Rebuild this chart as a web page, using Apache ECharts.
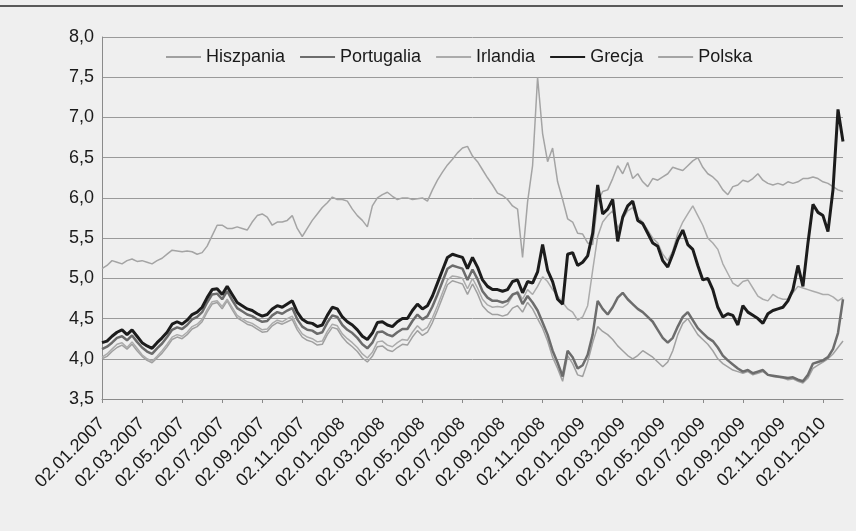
<!DOCTYPE html>
<html>
<head>
<meta charset="utf-8">
<script src="https://cdn.jsdelivr.net/npm/echarts@6/dist/echarts.min.js"></script>
<style>
html,body{margin:0;padding:0;background:#efefef;}
#container{width:856px;height:531px;}
</style>
</head>
<body>
<div id="container"></div>
<script>
// tick labels, one every 8 weekly points
var tickLabels = ['02.01.2007','02.03.2007','02.05.2007','02.07.2007','02.09.2007','02.11.2007',
	'02.01.2008','02.03.2008','02.05.2008','02.07.2008','02.09.2008','02.11.2008',
	'02.01.2009','02.03.2009','02.05.2009','02.07.2009','02.09.2009','02.11.2009','02.01.2010'];

var hiszpania = [
	4.00,4.03,4.09,4.14,4.17,4.12,4.18,4.10,4.03,3.98,
	3.95,4.01,4.07,4.15,4.24,4.27,4.25,4.30,4.37,4.40,
	4.46,4.58,4.68,4.70,4.62,4.72,4.61,4.51,4.47,4.43,
	4.41,4.37,4.33,4.34,4.41,4.45,4.43,4.46,4.49,4.36,
	4.27,4.23,4.21,4.17,4.18,4.30,4.39,4.37,4.27,4.20,
	4.15,4.09,4.01,3.96,4.03,4.15,4.16,4.11,4.09,4.14,
	4.18,4.17,4.27,4.35,4.29,4.33,4.45,4.60,4.76,4.92,
	4.97,4.95,4.93,4.80,4.93,4.81,4.66,4.59,4.55,4.55,
	4.53,4.55,4.63,4.66,4.58,4.70,4.62,
	4.50,4.38,4.22,4.02,3.88,3.72,4.04,3.94,3.80,3.78,
	3.96,4.20,4.40,4.34,4.30,4.24,4.16,4.10,4.04,4.00,
	4.04,4.10,4.06,4.02,3.96,3.90,3.96,4.10,4.30,4.44,
	4.50,4.40,4.30,4.24,4.18,4.10,4.00,3.94,3.90,3.86,
	3.84,3.82,3.84,3.80,3.82,3.84,3.80,3.78,3.77,3.76,
	3.74,3.75,3.72,3.70,3.76,3.88,3.92,3.96,4.00,4.06,
	4.14,4.22
];
var portugalia = [
	4.12,4.15,4.20,4.26,4.28,4.23,4.29,4.21,4.14,4.09,
	4.06,4.13,4.19,4.27,4.36,4.39,4.37,4.42,4.49,4.52,
	4.58,4.70,4.80,4.81,4.74,4.84,4.73,4.63,4.59,4.55,
	4.53,4.49,4.46,4.47,4.54,4.58,4.56,4.60,4.63,4.49,
	4.40,4.36,4.35,4.31,4.33,4.45,4.54,4.52,4.42,4.36,
	4.32,4.26,4.18,4.13,4.20,4.33,4.34,4.30,4.28,4.33,
	4.37,4.37,4.47,4.55,4.49,4.53,4.65,4.80,4.96,5.12,
	5.16,5.14,5.12,4.98,5.11,4.99,4.84,4.76,4.72,4.72,
	4.70,4.72,4.80,4.82,4.68,4.78,4.70,
	4.60,4.45,4.30,4.10,3.95,3.78,4.10,4.02,3.88,3.92,
	4.05,4.30,4.72,4.62,4.55,4.64,4.76,4.82,4.74,4.68,
	4.62,4.58,4.52,4.46,4.36,4.26,4.20,4.26,4.40,4.52,
	4.58,4.48,4.38,4.32,4.26,4.22,4.14,4.04,3.98,3.93,
	3.88,3.84,3.86,3.82,3.84,3.86,3.80,3.79,3.78,3.77,
	3.76,3.77,3.74,3.72,3.80,3.94,3.96,3.98,4.02,4.12,
	4.32,4.74
];
var irlandia = [
	4.02,4.06,4.12,4.18,4.20,4.14,4.21,4.13,4.05,4.00,
	3.97,4.03,4.10,4.18,4.27,4.30,4.28,4.33,4.40,4.43,
	4.49,4.61,4.71,4.72,4.65,4.74,4.64,4.54,4.50,4.46,
	4.44,4.40,4.36,4.37,4.44,4.48,4.46,4.50,4.53,4.40,
	4.31,4.27,4.25,4.21,4.22,4.34,4.43,4.41,4.31,4.25,
	4.20,4.14,4.06,4.01,4.08,4.21,4.22,4.17,4.15,4.20,
	4.24,4.23,4.33,4.41,4.35,4.39,4.51,4.66,4.82,4.98,
	5.03,5.02,5.00,4.87,5.00,4.88,4.74,4.67,4.64,4.65,
	4.64,4.68,4.78,4.84,4.74,4.86,4.80,
	4.90,5.02,4.96,4.86,4.78,4.70,4.62,4.58,4.48,4.52,
	4.66,5.10,5.52,5.70,5.78,5.84,5.62,5.74,5.84,5.88,
	5.76,5.70,5.60,5.50,5.44,5.30,5.22,5.34,5.56,5.70,
	5.80,5.90,5.78,5.66,5.50,5.44,5.36,5.18,5.06,4.94,
	4.90,4.96,4.98,4.88,4.78,4.74,4.72,4.80,4.76,4.74,
	4.74,4.82,4.90,4.88,4.86,4.84,4.82,4.80,4.80,4.77,
	4.72,4.76
];
var grecja = [
	4.20,4.22,4.28,4.33,4.36,4.30,4.36,4.28,4.20,4.16,
	4.13,4.20,4.26,4.33,4.43,4.46,4.43,4.48,4.55,4.58,
	4.64,4.76,4.86,4.87,4.80,4.90,4.80,4.70,4.66,4.62,
	4.60,4.56,4.53,4.55,4.62,4.66,4.64,4.68,4.72,4.58,
	4.49,4.45,4.44,4.40,4.42,4.54,4.64,4.62,4.52,4.46,
	4.42,4.36,4.28,4.24,4.32,4.45,4.46,4.42,4.40,4.46,
	4.50,4.50,4.60,4.68,4.62,4.66,4.78,4.94,5.10,5.26,
	5.30,5.28,5.26,5.12,5.26,5.14,4.98,4.90,4.86,4.86,
	4.84,4.86,4.96,4.98,4.82,4.96,4.94,5.08,5.42,5.10,
	4.96,4.74,4.68,5.30,5.32,5.16,5.20,5.28,5.56,6.16,
	5.80,5.86,5.98,5.46,5.76,5.90,5.96,5.72,5.68,5.56,
	5.44,5.40,5.22,5.14,5.30,5.48,5.60,5.42,5.36,5.16,
	4.98,5.00,4.86,4.64,4.52,4.56,4.54,4.42,4.66,4.58,
	4.54,4.50,4.44,4.56,4.60,4.62,4.64,4.72,4.86,5.16,
	4.90,5.44,5.92,5.82,5.78,5.58,6.10,7.10,6.70
];
var polska = [
	5.12,5.16,5.22,5.20,5.18,5.22,5.24,5.21,5.22,5.20,
	5.18,5.22,5.25,5.30,5.35,5.34,5.33,5.34,5.33,5.30,
	5.32,5.40,5.53,5.66,5.66,5.62,5.62,5.64,5.62,5.60,
	5.70,5.78,5.80,5.76,5.66,5.70,5.70,5.72,5.78,5.62,
	5.52,5.62,5.72,5.80,5.88,5.94,6.01,5.98,5.98,5.96,
	5.86,5.78,5.72,5.64,5.90,6.00,6.04,6.07,6.02,5.98,
	6.00,6.00,5.98,5.99,6.00,5.96,6.10,6.22,6.32,6.41,
	6.48,6.56,6.62,6.64,6.52,6.45,6.35,6.25,6.16,6.06,
	6.03,5.98,5.90,5.86,5.26,5.95,6.40,7.50,6.80,6.45,
	6.62,6.20,5.98,5.74,5.70,5.56,5.55,5.44,5.42,5.95,
	6.08,6.10,6.24,6.40,6.30,6.44,6.24,6.30,6.20,6.14,
	6.24,6.22,6.26,6.30,6.38,6.36,6.34,6.40,6.46,6.50,
	6.38,6.30,6.26,6.20,6.10,6.04,6.14,6.16,6.22,6.20,
	6.24,6.30,6.22,6.18,6.16,6.18,6.16,6.20,6.18,6.20,
	6.24,6.24,6.26,6.24,6.20,6.18,6.14,6.10,6.08
];

var points = [];
for(var i=0;i<grecja.length;i++){
	points.push(i);
}

function lineSeries(name,data,color,width,z){
	return {
		name:name,
		type:'line',
		data:data,
		symbol:'none',
		z:z,
		lineStyle:{color:color,width:width},
		itemStyle:{color:color}
	};
}

var myChart = echarts.init(document.getElementById('container'));
var option = {
	backgroundColor:'#efefef',
	animation:false,
	textStyle:{fontFamily:'Liberation Sans, Arial, sans-serif',color:'#1a1a1a'},
	graphic:[{
		type:'line',
		shape:{x1:0,y1:6,x2:843,y2:6},
		style:{stroke:'#5a5a5a',lineWidth:2}
	}],
	legend:{
		left:160,
		top:43,
		itemWidth:35,
		itemHeight:12,
		itemGap:14,
		itemStyle:{opacity:0},
		textStyle:{fontSize:18,color:'#1a1a1a'},
		data:['Hiszpania','Portugalia','Irlandia','Grecja','Polska']
	},
	grid:{left:102,right:13,top:37,bottom:132},
	xAxis:{
		type:'category',
		boundaryGap:false,
		data:points,
		axisLine:{lineStyle:{color:'#8a8a8a',width:1}},
		axisTick:{interval:7,length:4,lineStyle:{color:'#8a8a8a'}},
		axisLabel:{
			interval:7,
			rotate:45,
			margin:22,
			fontSize:18,
			color:'#1a1a1a',
			formatter:function(value,index){
				return tickLabels[index/8] || '';
			}
		},
		splitLine:{show:false}
	},
	yAxis:{
		type:'value',
		min:3.5,
		max:8,
		interval:0.5,
		axisLine:{show:true,lineStyle:{color:'#8a8a8a',width:1}},
		axisTick:{show:false},
		axisLabel:{
			margin:8,
			fontSize:18,
			color:'#1a1a1a',
			formatter:function(v){ return v.toFixed(1).replace('.',','); }
		},
		splitLine:{lineStyle:{color:'#9a9a9a',width:1}}
	},
	series:[
		lineSeries('Hiszpania',hiszpania,'#a0a0a0',1.5,2),
		lineSeries('Portugalia',portugalia,'#6c6c6c',2.5,3),
		lineSeries('Irlandia',irlandia,'#ababab',1.5,2),
		lineSeries('Grecja',grecja,'#1c1c1c',3,4),
		lineSeries('Polska',polska,'#a4a4a4',1.5,2)
	]
};
myChart.setOption(option);
</script>
</body>
</html>
